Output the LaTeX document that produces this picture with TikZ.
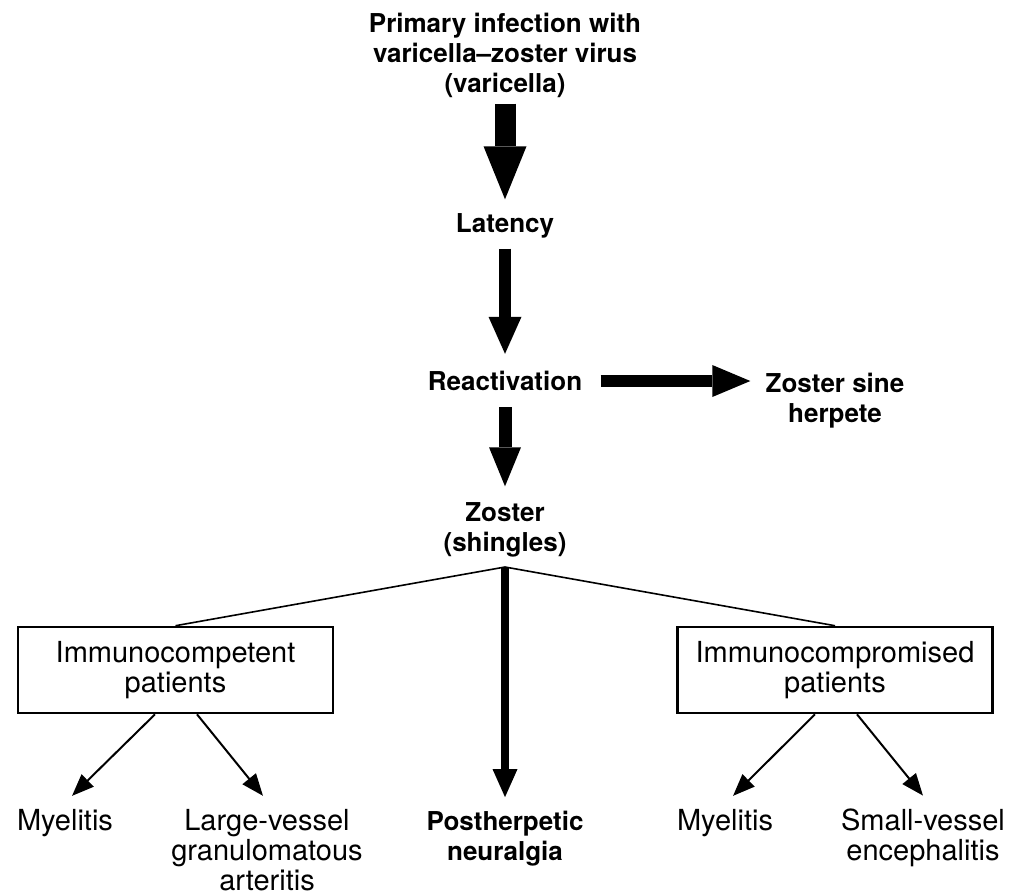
\documentclass[tikz,border=0pt]{standalone}
\usepackage{fontspec}
\setmainfont{TeX Gyre Heros}
\usetikzlibrary{arrows.meta}

\begin{document}
\begin{tikzpicture}[
    x=0.5pt, y=-0.5pt,
    txt/.style={align=center,inner sep=0pt,font=\fontsize{14.5}{15}\selectfont},
    hd/.style={align=center,inner sep=0pt,font=\fontsize{13}{15}\selectfont\bfseries},
    box/.style={txt,draw,line width=1.3pt,minimum width=157.5pt,minimum height=43pt},
    fat/.style n args={3}{line width=#1,-{Triangle[length=#2,width=#3,line width=0pt]}},
    thin/.style={line width=1pt,-{Triangle[length=11pt,width=8.5pt]}}
]
\useasboundingbox (0,0) rectangle (1010,895);
\node[hd] (prim) at (505,55) {Primary infection with\\varicella--zoster virus\\(varicella)};
\node[hd] (lat) at (505,226) {Latency};
\node[hd] (react) at (505,381) {Reactivation};
\node[hd] (sine) at (835,401) {Zoster sine\\herpete};
\node[hd] (zos) at (505,530) {Zoster\\(shingles)};
\coordinate (apex) at (505,567);
\node[box] (icb) at (175.5,670) {Immunocompetent\\patients};
\node[box] (icp) at (835,670) {Immunocompromised\\patients};
\node[txt] (my1) at (65,823) {Myelitis};
\node[txt] (lv) at (267,850) {Large-vessel\\granulomatous\\arteritis};
\node[hd] (ph) at (505,839) {Postherpetic\\neuralgia};
\node[txt] (my2) at (725,823) {Myelitis};
\node[txt] (sv) at (923,838) {Small-vessel\\encephalitis};

\draw[fat={10.5pt}{26.5pt}{21.5pt},shorten <=3pt,shorten >=7pt] (prim) -- (lat);
\draw[fat={6pt}{18.5pt}{16.5pt},shorten <=5pt,shorten >=8.5pt] (lat) -- (react);
\draw[fat={6.5pt}{19.5pt}{16pt},shorten <=8pt,shorten >=8pt] (react) -- (zos);
\draw[fat={6pt}{19pt}{16pt},shorten <=9pt,shorten >=7.5pt] (react.east) -- (react.east -| sine.west);
\draw[line width=0.8pt] (icb.north) -- (apex) -- (icp.north);
\draw[fat={4pt}{14pt}{12.5pt},shorten >=7pt] (apex) -- (ph);
\draw[thin] ([xshift=-10.25pt]icb.south) -- ([xshift=3.5pt,yshift=6.5pt]my1.north);
\draw[thin] ([xshift=10.75pt]icb.south) -- ([xshift=-2pt,yshift=6.5pt]lv.north);
\draw[thin] ([xshift=-10pt]icp.south) -- ([xshift=4pt,yshift=6.5pt]my2.north);
\draw[thin] ([xshift=11pt]icp.south) -- ([yshift=6.5pt]sv.north);
\end{tikzpicture}
\end{document}
